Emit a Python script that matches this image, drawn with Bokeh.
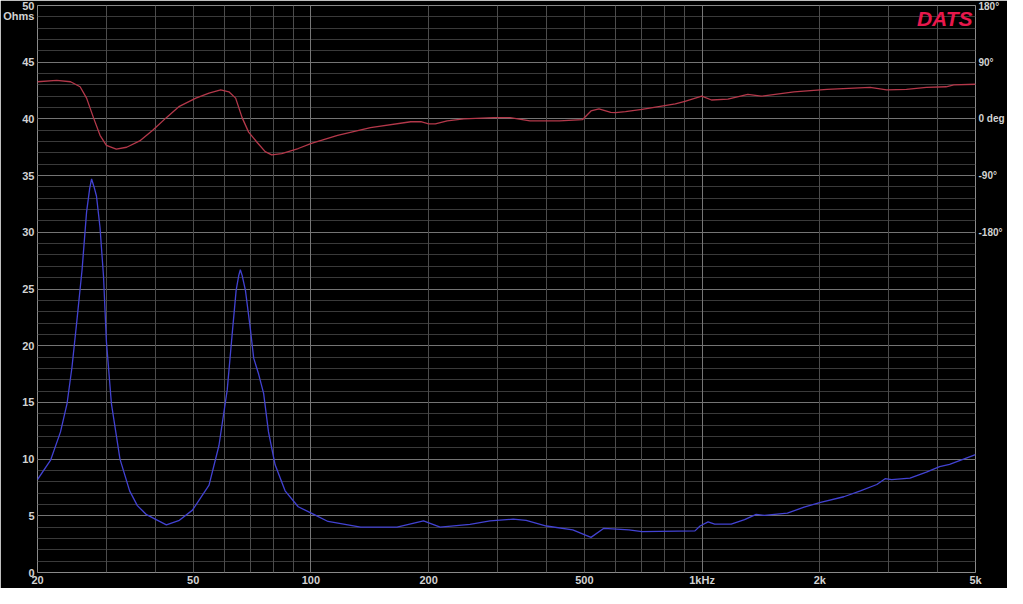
import json
from bokeh.plotting import figure
from bokeh.models import Range1d, LinearAxis, FixedTicker, Grid, Label, CustomJSTickFormatter
from bokeh.embed import file_html
from bokeh.resources import INLINE

# ---- data ----
freq_z = [20, 21.6, 22.9, 23.8, 24.5, 25.2, 26.0, 26.7, 27.2, 27.5, 27.9, 28.3, 28.9, 29.5,
          30.0, 30.9, 32.5, 34.4, 36.0, 38.0, 42.7, 46.1, 49.8, 54.9, 58.2, 61.1, 62.9, 64.4,
          65.4, 66.0, 66.7, 68.0, 70.0, 71.4, 73.5, 75.7, 77.9, 81.0, 85.9, 92.8, 102, 110.6,
          134, 166, 194, 214, 255, 287, 329, 355, 400, 467, 520, 561, 650, 702, 959, 988,
          1036, 1077, 1187, 1284, 1375, 1443, 1652, 1823, 2009, 2303, 2539, 2797, 2937, 3052,
          3400, 3745, 4049, 4293, 5000]
impedance = [8.2, 9.9, 12.4, 14.9, 18.1, 22.1, 26.7, 31.8, 33.9, 34.7, 34.0, 33.2, 30.4, 26.1,
             20.4, 14.9, 10.0, 7.2, 5.9, 5.1, 4.2, 4.6, 5.5, 7.7, 11.2, 16.1, 21.0, 24.9,
             26.2, 26.7, 26.2, 24.9, 21.5, 18.9, 17.5, 15.8, 12.4, 9.5, 7.2, 5.8, 5.1, 4.5,
             4.0, 4.0, 4.55, 4.0, 4.25, 4.55, 4.7, 4.6, 4.1, 3.75, 3.1, 3.9, 3.75, 3.6, 3.67, 4.1,
             4.47, 4.27, 4.27, 4.67, 5.13, 5.04, 5.24, 5.76, 6.19, 6.68, 7.19, 7.76, 8.27, 8.19,
             8.33, 8.85, 9.34, 9.54, 10.4]

freq_p = [20, 22.4, 24.3, 25.7, 26.7, 27.8, 28.9, 30.0, 31.8, 33.8, 36.5, 39.4, 42.7, 46.1,
          50.8, 54.9, 58.8, 61.7, 64.2, 66.7, 69.3, 72.8, 76.4, 79.4, 84.2, 92.8, 100.3, 117,
          142, 180, 191, 200, 208, 223, 246, 293, 323, 363, 432, 495, 520, 545, 584, 601, 637,
          702, 854, 904, 998, 1057, 1164, 1309, 1415, 1718, 2087, 2689, 2963, 3330, 3745,
          4205, 4399, 5000]
phase = [59, 61, 59, 51, 33, 2, -26, -42, -48, -45, -35, -18, 2, 20,
         33, 41, 46, 43, 33, 2, -21, -37, -52, -57, -55, -47, -39, -26,
         -14, -4.5, -4.5, -8, -8, -3, 0, 2, 2, -3, -3, -1, 12.6, 16, 10.4, 9.9, 11.5,
         15, 24, 28, 36, 30, 31.5, 39, 36, 43, 47, 50, 46, 47, 50,
         51, 54, 55]

x_tick_values = [20, 50, 100, 200, 500, 1000, 2000, 5000]
x_tick_labels = ["20", "50", "100", "200", "500", "1kHz", "2k", "5k"]
y_tick_values = [0, 5, 10, 15, 20, 25, 30, 35, 40, 45, 50]
y_unit_label = "Ohms"
y_unit_pos = 49.1
phase_tick_values = [180, 90, 0, -90, -180]
phase_tick_labels = ["180°", "90°", "0 deg", "-90°", "-180°"]

# grid positions
x_grid_minor = [f * m for m in (10, 100, 1000) for f in range(2, 10) if 20 <= f * m <= 5000]
x_grid_major = [100, 1000]

LABEL_COLOR = "#d2d2d2"
FONT = "Liberation Sans"

p = figure(width=1007, height=588, x_axis_type="log",
           x_range=Range1d(20, 5000), y_range=Range1d(0, 50),
           output_backend="svg", toolbar_location=None,
           background_fill_color="black", border_fill_color="black",
           min_border_left=37, min_border_right=26, min_border_top=5, min_border_bottom=14)
p.outline_line_color = "#8a8a8a"
p.outline_line_width = 1
p.grid.visible = False
p.extra_y_ranges = {"phase": Range1d(-720, 180)}

# grids
p.add_layout(Grid(dimension=1, ticker=FixedTicker(ticks=list(range(0, 51))),
                  grid_line_color="#3a3a3a", grid_line_width=1))
p.add_layout(Grid(dimension=1, ticker=FixedTicker(ticks=y_tick_values),
                  grid_line_color="#747474", grid_line_width=1))
p.add_layout(Grid(dimension=0, ticker=FixedTicker(ticks=x_grid_minor),
                  grid_line_color="#4c4c4c", grid_line_width=1))
p.add_layout(Grid(dimension=0, ticker=FixedTicker(ticks=x_grid_major),
                  grid_line_color="#767676", grid_line_width=1))

# lines
p.line(freq_p, phase, y_range_name="phase", line_color="#b4384a", line_width=1.3)
p.line(freq_z, impedance, line_color="#4242d2", line_width=1.3)

def style_axis(ax, standoff, size="11px"):
    ax.axis_line_color = None
    ax.major_tick_line_color = None
    ax.minor_tick_line_color = None
    ax.major_tick_out = 0
    ax.major_tick_in = 0
    ax.minor_tick_out = 0
    ax.minor_tick_in = 0
    ax.major_label_text_color = LABEL_COLOR
    ax.major_label_text_font = FONT
    ax.major_label_text_font_style = "bold"
    ax.major_label_text_font_size = size
    ax.major_label_standoff = standoff

def make_formatter(values, labels):
    mapping = json.dumps({str(round(v * 10)): l for v, l in zip(values, labels)})
    return CustomJSTickFormatter(
        code=f"const m = {mapping}; const k = String(Math.round(tick * 10)); return (k in m) ? m[k] : '';")

# bottom axis
p.xaxis.ticker = FixedTicker(ticks=x_tick_values)
p.xaxis.formatter = make_formatter(x_tick_values, x_tick_labels)
style_axis(p.xaxis[0], 1)

# left axis (numbers plus the unit label just below the top tick)
p.yaxis.ticker = FixedTicker(ticks=y_tick_values + [y_unit_pos])
p.yaxis.formatter = make_formatter(y_tick_values + [y_unit_pos],
                                   [str(v) for v in y_tick_values] + [y_unit_label])
style_axis(p.yaxis[0], 3)

# right (phase) axis
raxis = LinearAxis(y_range_name="phase", ticker=FixedTicker(ticks=phase_tick_values),
                   formatter=make_formatter(phase_tick_values, phase_tick_labels))
style_axis(raxis, 3, "10px")
p.add_layout(raxis, "right")

# brand label inside the plot area
p.add_layout(Label(x=5000, y=50, x_offset=-3, y_offset=-1, text="DATS",
                   text_align="right", text_baseline="top",
                   text_color="#e8184c", text_font=FONT, text_font_style="bold italic",
                   text_font_size="21px"))

open("out.html", "w").write(file_html(p, INLINE))
